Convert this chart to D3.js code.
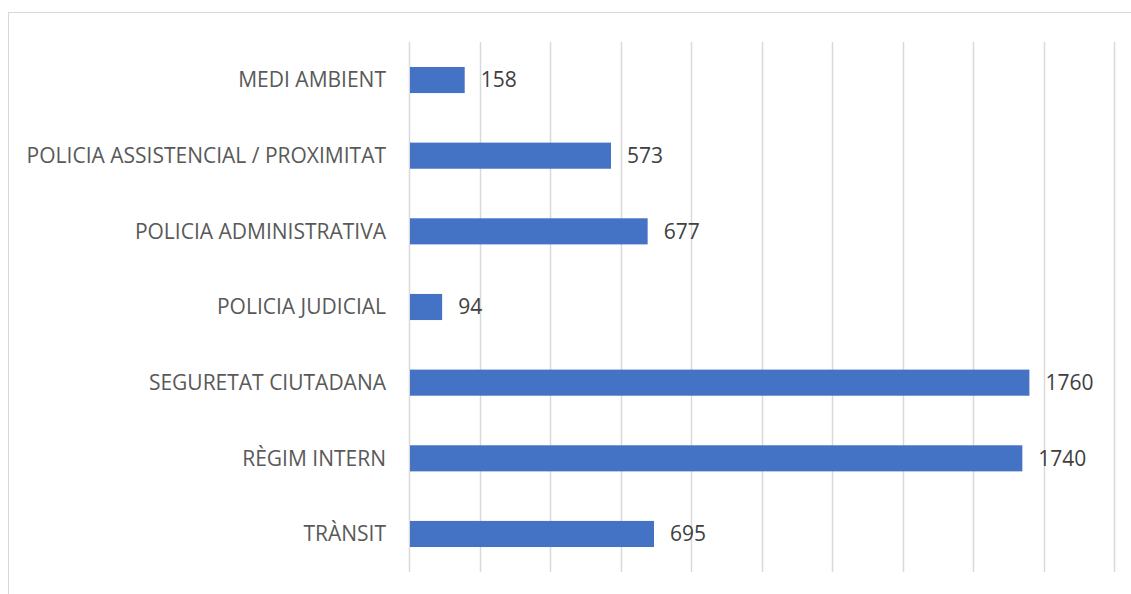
<!DOCTYPE html>
<html>
<head>
<meta charset="utf-8">
<script src="https://cdn.jsdelivr.net/npm/d3@7"></script>
<style>
  body { margin: 0; background: #fff; }
  svg text { font-family: "Open Sans", "Noto Sans", sans-serif; }
</style>
</head>
<body>
<div id="chart"></div>
<script>
// Chart size
var width = 1131;
var height = 594;

// Data
var categories = ["MEDI AMBIENT", "POLICIA ASSISTENCIAL / PROXIMITAT", "POLICIA ADMINISTRATIVA",
    "POLICIA JUDICIAL", "SEGURETAT CIUTADANA", "RÈGIM INTERN", "TRÀNSIT"];
var values = [158, 573, 677, 94, 1760, 1740, 695];
var tickValues = [0, 200, 400, 600, 800, 1000, 1200, 1400, 1600, 1800, 2000];

var plot = {left: 409, right: 1114, top: 42, bottom: 572};

var svg = d3.select("#chart").append("svg")
    .attr("width", width)
    .attr("height", height);

// Outer chart border (cut off at right and bottom like the reference)
svg.append("rect")
    .attr("x", 8.5)
    .attr("y", 12.5)
    .attr("width", 1140)
    .attr("height", 600)
    .attr("fill", "none")
    .attr("stroke", "#d9d9d9")
    .attr("stroke-width", 1);

var x = d3.scaleLinear().domain([0, 2000]).range([plot.left, plot.right]);
var y = d3.scaleBand().domain(categories).range([plot.top, plot.bottom]).paddingInner(0.655).paddingOuter(0.33);

// Vertical gridlines
svg.append("g").selectAll("line")
    .data(tickValues)
    .enter().append("line")
    .attr("x1", function(d) { return Math.round(x(d)) + 0.5; })
    .attr("x2", function(d) { return Math.round(x(d)) + 0.5; })
    .attr("y1", plot.top)
    .attr("y2", plot.bottom)
    .style("stroke", "#d9d9d9")
    .style("stroke-width", 1.5);

// Bars
svg.append("g").selectAll("rect")
    .data(values)
    .enter().append("rect")
    .attr("x", x(0) + 1)
    .attr("y", function(d, i) { return y(categories[i]); })
    .attr("width", function(d) { return x(d) - x(0) - 1; })
    .attr("height", y.bandwidth())
    .attr("fill", "#4472c4");

// Value labels
svg.append("g").selectAll("text")
    .data(values)
    .enter().append("text")
    .attr("x", function(d) { return x(d) + 16; })
    .attr("y", function(d, i) { return y(categories[i]) + y.bandwidth() / 2; })
    .attr("dy", "0.35em")
    .attr("font-size", 21)
    .attr("fill", "#404040")
    .text(function(d) { return d; });

// Category labels
svg.append("g").selectAll("text")
    .data(categories)
    .enter().append("text")
    .attr("x", plot.left - 23)
    .attr("y", function(d) { return y(d) + y.bandwidth() / 2; })
    .attr("dy", "0.35em")
    .attr("text-anchor", "end")
    .attr("font-size", 21)
    .attr("fill", "#595959")
    .text(function(d) { return d; });
</script>
</body>
</html>
